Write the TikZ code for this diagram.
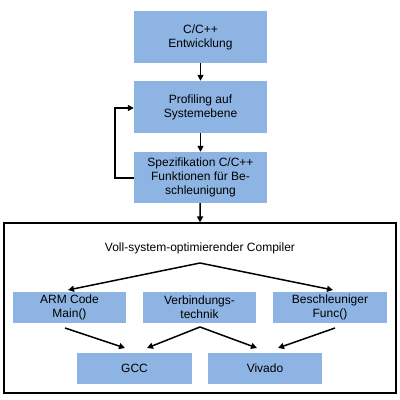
\documentclass[tikz,border=0pt]{standalone}
\usepackage{fontspec}
\setmainfont{Liberation Sans}
\usetikzlibrary{arrows.meta}
\definecolor{boxblue}{HTML}{8DB4E2}
\begin{document}
\begin{tikzpicture}[x=1pt,y=-1pt,
  box/.style={fill=boxblue,draw=none,align=center,inner sep=0pt,font=\fontsize{12}{14}\selectfont},
  arr/.style={-{Triangle[length=6pt,width=6pt]},line width=1.5pt}]
\useasboundingbox (0,0) rectangle (400,400);
\fill[white] (0,0) rectangle (400,400);
% top chain
\node[box,minimum width=133pt,minimum height=52pt] (b1) at (200.5,37) {C/C++\\Entwicklung};
\node[box,minimum width=133pt,minimum height=52pt] (b2) at (200.5,107) {Profiling auf\\Systemebene};
\node[box,minimum width=133pt,minimum height=51pt] (b3) at (200.5,177.5) {Spezifikation C/C++\\Funktionen für Be-\\schleunigung};
% frame
\node[draw,line width=1.2pt,minimum width=392pt,minimum height=170pt,inner sep=0pt] (frame) at (200,308) {};
\node[font=\fontsize{12}{14}\selectfont] (title) at (200,248) {Voll-system-optimierender Compiler};
\coordinate (fork) at (200,263);
% row boxes
\node[box,minimum width=113pt,minimum height=31pt] (arm) at (69.5,307.5) {ARM Code\\Main()};
\node[box,minimum width=113pt,minimum height=31pt] (vt) at (199.5,307.5) {Verbindungs-\\technik};
\node[box,minimum width=114pt,minimum height=31pt] (be) at (330,307.5) {Beschleuniger\\Func()};
\node[box,minimum width=115pt,minimum height=31pt] (gcc) at (134.5,368.5) {GCC};
\node[box,minimum width=114pt,minimum height=31pt] (viv) at (265,368.5) {Vivado};
% arrows
\draw[arr] (b1) -- (b2);
\draw[arr] (b2) -- (b3);
\draw[arr] (b3) -- (frame.north);
\draw[arr] (b3.west|-0,178) -- (115,178) -- (115,108) -- (b2.west|-0,108);
\draw[arr] (fork) -- (68,290);
\draw[arr] (fork) -- (333,290);
\coordinate (armo) at (65,328);
\coordinate (vto) at (200,327);
\coordinate (beo) at (335,328);
\draw[arr] (armo) -- (125,348);
\draw[arr] (vto) -- (147,348);
\draw[arr] (vto) -- (257,348);
\draw[arr] (beo) -- (278,348);
\end{tikzpicture}
\end{document}
